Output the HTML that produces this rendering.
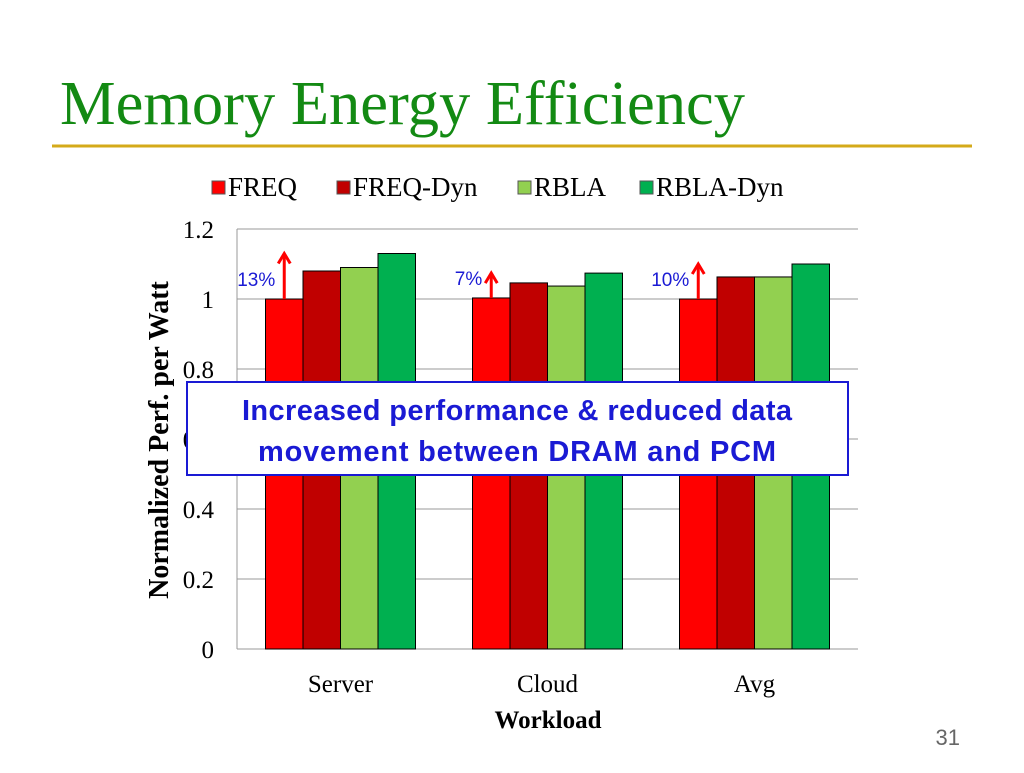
<!DOCTYPE html>
<html><head><meta charset="utf-8"><style>
body{margin:0;width:1024px;height:768px;background:#fff;overflow:hidden;font-family:"Liberation Serif",serif}
</style></head><body>
<svg width="1024" height="768">
<text x="60" y="124" font-family="Liberation Serif" font-size="62.5" fill="#138a13">Memory Energy Efficiency</text>
<line x1="52" y1="146" x2="972" y2="146" stroke="#d4aa1a" stroke-width="3"/>
<g id="legend"></g>
<g id="chart"></g>
<text x="548" y="728" text-anchor="middle" font-size="25" font-weight="bold">Workload</text>
<text transform="translate(168,440) rotate(-90)" text-anchor="middle" font-size="28" font-weight="bold">Normalized Perf. per Watt</text>
<rect x="187" y="382" width="661" height="93" fill="#fff" stroke="#1a1ad4" stroke-width="2"/>
<text x="517" y="420" text-anchor="middle" font-family="Liberation Sans" font-weight="bold" font-size="29" fill="#1a1ad4" textLength="550">Increased performance &amp; reduced data</text>
<text x="517" y="461" text-anchor="middle" font-family="Liberation Sans" font-weight="bold" font-size="29" fill="#1a1ad4" textLength="518">movement between DRAM and PCM</text>
<text x="960" y="745" text-anchor="end" font-family="Liberation Sans" font-size="22" fill="#666">31</text>
</svg>
<script>
const categories=["Server","Cloud","Avg"];
const seriesNames=["FREQ","FREQ-Dyn","RBLA","RBLA-Dyn"];
const freq=[1.0,1.003,1.0];
const freqDyn=[1.08,1.046,1.063];
const rbla=[1.09,1.037,1.063];
const rblaDyn=[1.13,1.074,1.10];
const gains=["13%","7%","10%"];
const yTicks=[0,0.2,0.4,0.6,0.8,1,1.2];
const yTickLabels=["0","0.2","0.4","0.6","0.8","1","1.2"];
const colors=["#ff0000","#c00000","#92d050","#00b050"];
const NS="http://www.w3.org/2000/svg";
const chart=document.getElementById('chart');
const X0=237,X1=858,Y0=649,Y1=229;
function y(v){return Y0-(v-0)/(1.2-0)*(Y0-Y1);}
const gw=(X1-X0)/categories.length;
function gx(i){return X0+gw*i;}
const bw=37.5;
function mk(tag,at,parent){const e=document.createElementNS(NS,tag);for(const k in at)e.setAttribute(k,at[k]);(parent||chart).appendChild(e);return e;}
yTicks.forEach((t,i)=>{
 const l=mk('line',{x1:X0,x2:X1,y1:y(t),y2:y(t),stroke:'#999','stroke-width':1});
 
 
 const tx=mk('text',{x:214,y:y(t)+9,'text-anchor':'end','font-size':25});
 tx.textContent=yTickLabels[i];
 
 
});
const ax=mk('line',{x1:X0,x2:X0,y1:Y1,y2:Y0,stroke:'#999'});


const series=[freq,freqDyn,rbla,rblaDyn];
categories.forEach((c,i)=>{
 const start=gx(i)+(gw-4*bw)/2;
 series.forEach((s,j)=>{
  const r=mk('rect',{x:start+j*bw,y:y(s[i]),width:bw,height:Y0-y(s[i]),fill:colors[j],stroke:'#000','stroke-width':1});
  
  
 });
 const t=mk('text',{x:gx(i)+gw/2,y:692,'text-anchor':'middle','font-size':25});
 t.textContent=c;
 
 
 const axx=start+bw/2;
 const a=mk('line',{x1:axx,x2:axx,y1:y(freq[i]),y2:y(rblaDyn[i])+2,stroke:'#ff0000','stroke-width':3});
 
 
 const h=mk('polyline',{points:`${axx-6},${y(rblaDyn[i])+10} ${axx},${y(rblaDyn[i])} ${axx+6},${y(rblaDyn[i])+10}`,fill:'none',stroke:'#ff0000','stroke-width':3});
 
 
 const g=mk('text',{x:axx-9,y:y(freq[i])-13,'text-anchor':'end','font-family':'Liberation Sans','font-size':19,fill:'#1a1ad4'});
 g.textContent=gains[i];
 
 
});
const leg=document.getElementById('legend');
const lx=[212,337,518,640];
seriesNames.forEach((n,j)=>{
 const r=mk('rect',{x:lx[j],y:181,width:13,height:13,fill:colors[j],stroke:'#555'},leg);
 
 
 const t=mk('text',{x:lx[j]+16,y:196,'font-size':27},leg);
 t.textContent=n;
 
 
});
</script>
</body></html>
